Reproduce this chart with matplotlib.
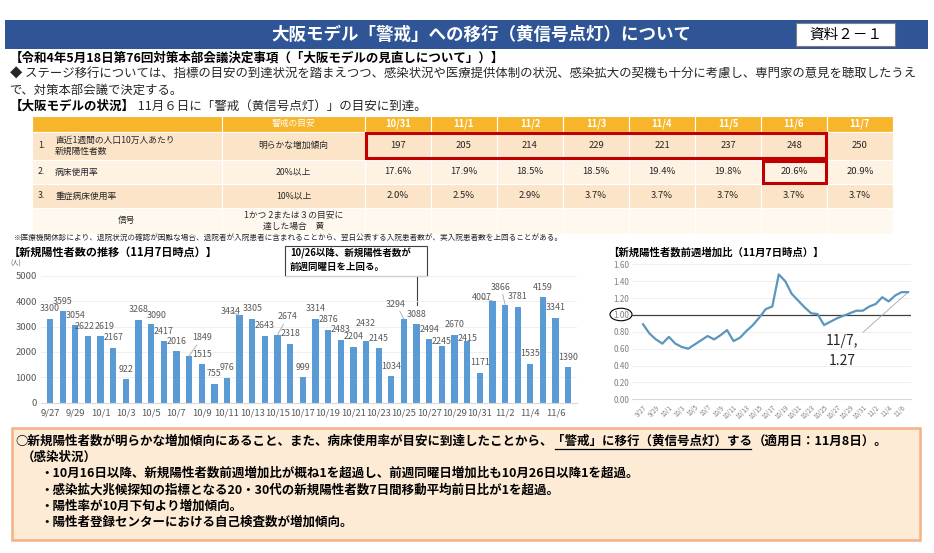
import matplotlib
matplotlib.use('Agg')
import matplotlib.pyplot as plt
from matplotlib.patches import Rectangle, Ellipse
import numpy as np

plt.rcParams['font.family'] = ['Noto Sans CJK JP', 'DejaVu Sans']

# ---------------- data ----------------
DATES = ['9/27', '9/28', '9/29', '9/30',
         '10/1', '10/2', '10/3', '10/4', '10/5', '10/6', '10/7', '10/8', '10/9', '10/10',
         '10/11', '10/12', '10/13', '10/14', '10/15', '10/16', '10/17', '10/18', '10/19', '10/20',
         '10/21', '10/22', '10/23', '10/24', '10/25', '10/26', '10/27', '10/28', '10/29', '10/30',
         '10/31', '11/1', '11/2', '11/3', '11/4', '11/5', '11/6', '11/7']
CASES = [3300, 3595, 3054, 2622, 2619, 2167, 922, 3268, 3090, 2417, 2016, 1849, 1515, 755,
         976, 3434, 3305, 2643, 2674, 2318, 999, 3314, 2876, 2483, 2204, 2432, 2145, 1034,
         3294, 3088, 2494, 2245, 2670, 2415, 1171, 4007, 3866, 3781, 1535, 4159, 3341, 1390]
RATIO = [0.89, 0.78, 0.71, 0.66, 0.74, 0.66, 0.62, 0.60, 0.65, 0.70, 0.75, 0.71, 0.76, 0.82,
         0.69, 0.73, 0.81, 0.88, 0.97, 1.07, 1.10, 1.48, 1.40, 1.25, 1.17, 1.09, 1.02, 1.01,
         0.88, 0.92, 0.96, 0.99, 1.02, 1.05, 1.05, 1.10, 1.13, 1.21, 1.16, 1.23, 1.27, 1.27]

TABLE_DATES = ['10/31', '11/1', '11/2', '11/3', '11/4', '11/5', '11/6', '11/7']
PER_100K = [197, 205, 214, 229, 221, 237, 248, 250]
BED_USE = [17.6, 17.9, 18.5, 18.5, 19.4, 19.8, 20.6, 20.9]
SEVERE_BED_USE = [2.0, 2.5, 2.9, 3.7, 3.7, 3.7, 3.7, 3.7]
ROW_LABELS = [('1.', '直近1週間の人口10万人あたり\n新規陽性者数'),
              ('2.', '病床使用率'),
              ('3.', '重症病床使用率')]
ROW_TARGETS = ['明らかな増加傾向', '20%以上', '10%以上']

TITLE = '大阪モデル「警戒」への移行（黄信号点灯）について'
DOC_NO = '資料２－１'
BAR_TITLE = '【新規陽性者数の推移（11月7日時点）】'
LINE_TITLE = '【新規陽性者数前週増加比（11月7日時点）】'

# ---------------- figure ----------------
W, H = 934, 553
fig = plt.figure(figsize=(W / 100, H / 100), dpi=100)
fig.patch.set_facecolor('white')
bg = fig.add_axes([0, 0, 1, 1], zorder=0)
bg.set_xlim(0, W)
bg.set_ylim(H, 0)
bg.axis('off')
renderer = fig.canvas.get_renderer()

def frac(x0, y0, x1, y1):
    return [x0 / W, 1 - y1 / H, (x1 - x0) / W, (y1 - y0) / H]

def seq(x, y, parts, **common):
    spans = []
    for s, kw in parts:
        t = bg.text(x, y, s, ha='left', va='center', **{**common, **kw})
        bb = t.get_window_extent(renderer)
        spans.append((x, bb.x1))
        x = bb.x1
    return spans

TXT = '#262626'

# banner
bg.add_patch(Rectangle((5, 20), 923, 29, fc='#2F5597', ec='none'))
bg.text(481, 34.5, TITLE, color='white', fontsize=12.6, fontweight='bold',
        ha='center', va='center')
bg.add_patch(Rectangle((796, 22.5), 99, 23.5, fc='white', ec='#7F7F7F', lw=0.8))
bg.text(845.5, 34.5, DOC_NO, color='black', fontsize=10.5, ha='center', va='center')

# header texts
bg.text(10, 58, '【令和4年5月18日第76回対策本部会議決定事項（「大阪モデルの見直しについて」）】',
        fontsize=9, fontweight='bold', color='black', va='center')
bg.text(10, 74, '◆ ステージ移行については、指標の目安の到達状況を踏まえつつ、感染状況や医療提供体制の状況、'
        '感染拡大の契機も十分に考慮し、専門家の意見を聴取したうえ',
        fontsize=8.9, color=TXT, va='center')
bg.text(10, 90, 'で、対策本部会議で決定する。', fontsize=8.9, color=TXT, va='center')
seq(10, 106, [('【大阪モデルの状況】', dict(fontweight='bold', color='black')),
              (' 11月６日に「警戒（黄信号点灯）」の目安に到達。', dict(color=TXT))],
    fontsize=9)

# ---------------- table ----------------
col_x = [32, 221.7, 365, 431, 497, 563, 629, 695, 761, 827, 893]
row_y = [116, 131.7, 160, 184, 207.7, 234]
row_fc = ['#F7B52C', '#FCE4C8', '#FEF2E3', '#FCE4C8', '#FFF8EF']
for r in range(5):
    for c in range(len(col_x) - 1):
        bg.add_patch(Rectangle((col_x[c], row_y[r]), col_x[c + 1] - col_x[c],
                               row_y[r + 1] - row_y[r], fc=row_fc[r], ec='white', lw=0.8))
TS = 6.3
ycen = [(row_y[i] + row_y[i + 1]) / 2 for i in range(5)]
mid = (col_x[1] + col_x[2]) / 2
bg.text(mid, ycen[0], '警戒の目安', color='white', fontsize=TS, ha='center', va='center')
for j, d in enumerate(TABLE_DATES):
    xc = (col_x[2 + j] + col_x[3 + j]) / 2
    bg.text(xc, ycen[0], d, color='white', fontsize=6.8, ha='center', va='center',
            fontweight='bold')
    bg.text(xc, ycen[1], f'{PER_100K[j]}', color=TXT, fontsize=6.8, ha='center', va='center')
    bg.text(xc, ycen[2], f'{BED_USE[j]:.1f}%', color=TXT, fontsize=6.8, ha='center', va='center')
    bg.text(xc, ycen[3], f'{SEVERE_BED_USE[j]:.1f}%', color=TXT, fontsize=6.8, ha='center', va='center')
for i, (num, lab) in enumerate(ROW_LABELS):
    bg.text(38, ycen[i + 1], num, color=TXT, fontsize=TS, va='center')
    bg.text(55, ycen[i + 1], lab, color=TXT, fontsize=TS, va='center', linespacing=1.3)
    bg.text(mid, ycen[i + 1], ROW_TARGETS[i], color=TXT, fontsize=TS, ha='center', va='center')
bg.text((col_x[0] + col_x[1]) / 2, ycen[4], '信号', color=TXT, fontsize=TS, ha='center', va='center')
bg.text(mid, ycen[4], '1かつ 2または３の目安に\n達した場合　黄', color=TXT, fontsize=TS,
        ha='center', va='center', linespacing=1.3)
bg.add_patch(Rectangle((366, 133.3), 460, 24.8, fill=False, ec='#C00000', lw=2.2))
bg.add_patch(Rectangle((763, 161.3), 63, 21.8, fill=False, ec='#C00000', lw=2.2))
bg.text(14, 238, '※医療機関休診により、退院状況の確認が困難な場合、退院者が入院患者に含まれることから、'
        '翌日公表する入院患者数が、実入院患者数を上回ることがある。',
        fontsize=5.5, color=TXT, va='center')

# ---------------- bar chart ----------------
bg.text(9, 252, BAR_TITLE, fontsize=8, fontweight='bold', color='black', va='center')
bg.text(16, 264, '(人)', fontsize=4.5, color='#595959', ha='center', va='center')
ax1 = fig.add_axes(frac(41.2, 275.7, 577.1, 402.7), zorder=2)
ax1.patch.set_alpha(0)
x = np.arange(len(CASES))
ax1.bar(x, CASES, width=0.5, color='#5B9BD5', zorder=2)
ax1.set_xlim(-0.7, len(CASES) - 0.3)
ax1.set_ylim(0, 5000)
ax1.set_yticks(range(0, 5001, 1000))
ax1.yaxis.grid(True, color='#EDEDED', lw=0.6)
ax1.set_axisbelow(True)
for s in ['top', 'right', 'left']:
    ax1.spines[s].set_visible(False)
ax1.spines['bottom'].set_color('#D9D9D9')
ax1.set_xticks(x[::2])
ax1.set_xticklabels(DATES[::2])
ax1.tick_params(length=0, labelsize=6.8, labelcolor='#595959')
ax1.tick_params(axis='y', pad=3)
ax1.tick_params(axis='x', pad=4)

LABEL_SHIFT = {3: (-3.5, 10), 4: (3.5, 10), 11: (13, 18), 15: (-9, 4), 18: (10, 18),
               25: (0, 17), 28: (-8, 15), 31: (0, 4), 33: (0, 3), 35: (-11, 3),
               36: (-4, 17.5), 8: (6, 9)}
LEADER = {11, 15, 18, 28, 35, 36}
for i, v in enumerate(CASES):
    dx, dy = LABEL_SHIFT.get(i, (0, 10))
    kw = {}
    if i in LEADER:
        kw['arrowprops'] = dict(arrowstyle='-', color='#A6A6A6', lw=0.6, shrinkA=0, shrinkB=0)
    ax1.annotate(f'{v}', xy=(i, v), xytext=(dx, dy), textcoords='offset pixels',
                 ha='center', va='center', fontsize=6.4, color='#595959', zorder=3, **kw)

# callout
bg.text(290, 260, '10/26以降、新規陽性者数が\n前週同曜日を上回る。', fontsize=6.8,
        fontweight='bold', color='black', va='center', ha='left', linespacing=1.35, zorder=5)
bg.add_patch(Rectangle((285, 245.5), 142, 30, fc='white', ec='#404040', lw=0.8, zorder=4))
bg.plot([417, 417], [275.5, 305], color='#404040', lw=0.8, zorder=4)

# ---------------- line chart ----------------
bg.text(608, 252.5, LINE_TITLE, fontsize=7.5, fontweight='bold', color='black', va='center')
ax2 = fig.add_axes(frac(632, 264.3, 911, 399.3), zorder=2)
ax2.patch.set_alpha(0)
ax2.plot(x, RATIO, color='#5A96BE', lw=1.6, zorder=3)
ax2.axhline(1.0, color='#404040', lw=0.9, zorder=2)
ax2.set_xlim(-1.7, len(RATIO) - 1 + 0.45)
ax2.set_ylim(0, 1.6)
ax2.set_yticks(np.arange(0, 1.61, 0.2))
ax2.set_yticklabels([f'{t:.2f}' for t in np.arange(0, 1.61, 0.2)])
ax2.yaxis.grid(True, color='#EDEDED', lw=0.6)
ax2.set_axisbelow(True)
for s in ['top', 'right', 'left']:
    ax2.spines[s].set_visible(False)
ax2.spines['bottom'].set_color('#D9D9D9')
ax2.set_xticks(x[::2])
ax2.set_xticklabels(DATES[::2], rotation=45, ha='right', rotation_mode='anchor')
ax2.tick_params(length=0, labelcolor='#7F7F7F')
ax2.tick_params(axis='y', labelsize=5.8, pad=2)
ax2.tick_params(axis='x', labelsize=4.5, pad=3)
bg.add_patch(Ellipse((621, 314.5), 22, 12.5, fill=False, ec='black', lw=0.8, zorder=5))
ax2.annotate('11/7,\n1.27', xy=(len(RATIO) - 1, RATIO[-1]), xytext=(842, H - 351),
             textcoords='figure pixels', ha='center', va='center', fontsize=10,
             color='#262626', linespacing=1.5,
             arrowprops=dict(arrowstyle='-', color='#A6A6A6', lw=0.6, shrinkA=2, shrinkB=1))

# ---------------- bottom box ----------------
bg.add_patch(Rectangle((12, 428), 908, 112, fc='#FDEBD6', ec='#F4B183', lw=1.8))
BS = 9
spans = seq(15, 441, [('○新規陽性者数が明らかな増加傾向にあること、また、病床使用率が目安に到達したことから、', {}),
                      ('「警戒」に移行（黄信号点灯）する', {}),
                      ('（適用日：11月8日）。', {})],
            fontsize=BS, fontweight='bold', color='black')
bg.plot([spans[1][0] + 2, spans[1][1] - 2], [448.5, 448.5], color='black', lw=0.9)
bg.text(22, 457, '（感染状況）', fontsize=BS, fontweight='bold', color='black', va='center')
bullets = ['・10月16日以降、新規陽性者数前週増加比が概ね1を超過し、前週同曜日増加比も10月26日以降1を超過。',
           '・感染拡大兆候探知の指標となる20・30代の新規陽性者数7日間移動平均前日比が1を超過。',
           '・陽性率が10月下旬より増加傾向。',
           '・陽性者登録センターにおける自己検査数が増加傾向。']
for k, b in enumerate(bullets):
    bg.text(40, 473.5 + 16.3 * k, b, fontsize=BS, fontweight='bold', color='black', va='center')

fig.savefig('out.png', dpi=100)
